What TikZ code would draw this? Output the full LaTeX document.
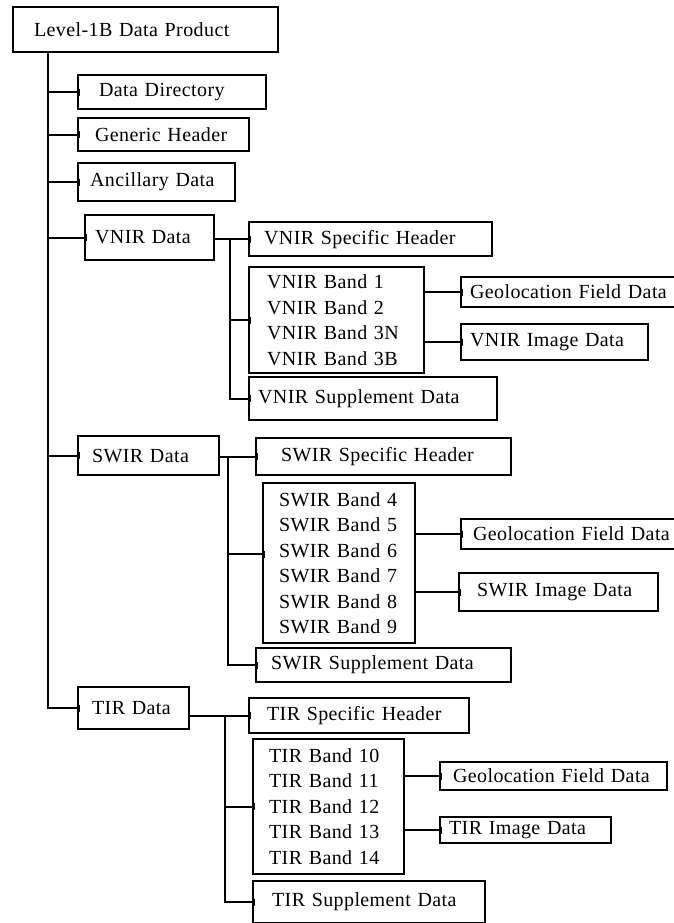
\documentclass[tikz,border=0pt]{standalone}
\usepackage{fontspec}
\setmainfont{Liberation Serif}[LetterSpace=2]
\usetikzlibrary{arrows.meta}

\tikzset{
  blk/.style={draw,line width=2.2pt,anchor=north west,align=left,
    inner ysep=0pt,font=\fontsize{20}{25.5}\selectfont},
  link/.style={line width=2pt,-{Bar[width=7pt,line width=1.4pt]},shorten >=-3pt},
}

\begin{document}
\begin{tikzpicture}[x=1pt,y=-1pt]
  \useasboundingbox (0,0) rectangle (674,923);

  % root and first level
  \node[blk,minimum width=265,minimum height=45,text width=223,inner xsep=21] (top) at (12,6) {Level-1B Data Product};
  \node[blk,minimum width=188,minimum height=34,text width=146,inner xsep=21] (dir) at (77,74) {Data Directory};
  \node[blk,minimum width=171,minimum height=33,text width=137,inner xsep=17] (gen) at (77,117) {Generic Header};
  \node[blk,minimum width=157,minimum height=38,text width=133,inner xsep=12] (anc) at (77,162) {Ancillary Data};
  \node[blk,minimum width=129,minimum height=45,text width=109,inner xsep=10] (vnir) at (84,214) {VNIR Data};
  \node[blk,minimum width=141,minimum height=39,text width=113,inner xsep=14] (swir) at (77,435) {SWIR Data};
  \node[blk,minimum width=111,minimum height=42,text width=83,inner xsep=14] (tir) at (77,686) {TIR Data};

  % VNIR
  \node[blk,minimum width=243,minimum height=34,text width=213,inner xsep=15] (vhdr) at (248,221) {VNIR Specific Header};
  \node[blk,minimum width=175,minimum height=106,text width=139,inner xsep=18] (vband) at (248,266)
    {VNIR Band 1\\VNIR Band 2\\VNIR Band 3N\\VNIR Band 3B};
  \node[blk,minimum width=230,minimum height=30,text width=212,inner xsep=9] (vgeo) at (460,276) {Geolocation Field Data};
  \node[blk,minimum width=187,minimum height=36,text width=169,inner xsep=9] (vimg) at (460,323) {VNIR Image Data};
  \node[blk,minimum width=248,minimum height=43,text width=230,inner xsep=9] (vsup) at (248,376) {VNIR Supplement Data};

  % SWIR
  \node[blk,minimum width=255,minimum height=37,text width=205,inner xsep=25] (shdr) at (255,437) {SWIR Specific Header};
  \node[blk,minimum width=152,minimum height=160,text width=120,inner xsep=16] (sband) at (262,482)
    {SWIR Band 4\\SWIR Band 5\\SWIR Band 6\\SWIR Band 7\\SWIR Band 8\\SWIR Band 9};
  \node[blk,minimum width=230,minimum height=30,text width=206,inner xsep=12] (sgeo) at (460,518) {Geolocation Field Data};
  \node[blk,minimum width=199,minimum height=38,text width=163,inner xsep=18] (simg) at (458,572) {SWIR Image Data};
  \node[blk,minimum width=255,minimum height=34,text width=225,inner xsep=15] (ssup) at (255,647) {SWIR Supplement Data};

  % TIR
  \node[blk,minimum width=220,minimum height=35,text width=184,inner xsep=18] (thdr) at (248,697) {TIR Specific Header};
  \node[blk,minimum width=151,minimum height=135,text width=119,inner xsep=16] (tband) at (252,738)
    {TIR Band 10\\TIR Band 11\\TIR Band 12\\TIR Band 13\\TIR Band 14};
  \node[blk,minimum width=227,minimum height=28,text width=201,inner xsep=13] (tgeo) at (439,761) {Geolocation Field Data};
  \node[blk,minimum width=171,minimum height=26,text width=153,inner xsep=9] (timg) at (439,816) {TIR Image Data};
  \node[blk,minimum width=232,minimum height=42,text width=194,inner xsep=19] (tsup) at (252,880) {TIR Supplement Data};

  % trunk
  \coordinate (trunk) at ([xshift=36]top.south west);
  \draw[link] (trunk) |- (tir.west);
  \foreach \n in {dir,gen,anc,vnir,swir}
    \draw[link] (trunk |- \n.west) -- (\n.west);

  % VNIR branch
  \coordinate (vbus) at ([xshift=15]vnir.east |- vhdr.west);
  \draw[link] (vnir.east |- vhdr.west) -- (vhdr.west);
  \draw[link] (vbus) |- (vsup.west);
  \draw[link] (vbus |- vband.west) -- (vband.west);
  \draw[link] (vband.east |- vgeo.west) -- (vgeo.west);
  \draw[link] (vband.east |- vimg.west) -- (vimg.west);

  % SWIR branch
  \coordinate (sbus) at ([xshift=8]swir.east |- shdr.west);
  \coordinate (sin) at ([yshift=9]sband.west);
  \draw[link] (swir.east |- shdr.west) -- (shdr.west);
  \draw[link] (sbus) |- (ssup.west);
  \draw[link] (sbus |- sin) -- (sin);
  \draw[link] (sband.east |- sgeo.west) -- (sgeo.west);
  \draw[link] (sband.east |- simg.west) -- (simg.west);

  % TIR branch
  \coordinate (tbus) at ([xshift=35]tir.east |- thdr.west);
  \draw[link] (tir.east |- thdr.west) -- (thdr.west);
  \draw[link] (tbus) |- (tsup.west);
  \draw[link] (tbus |- tband.west) -- (tband.west);
  \draw[link] (tband.east |- tgeo.west) -- (tgeo.west);
  \draw[link] (tband.east |- timg.west) -- (timg.west);
\end{tikzpicture}
\end{document}
